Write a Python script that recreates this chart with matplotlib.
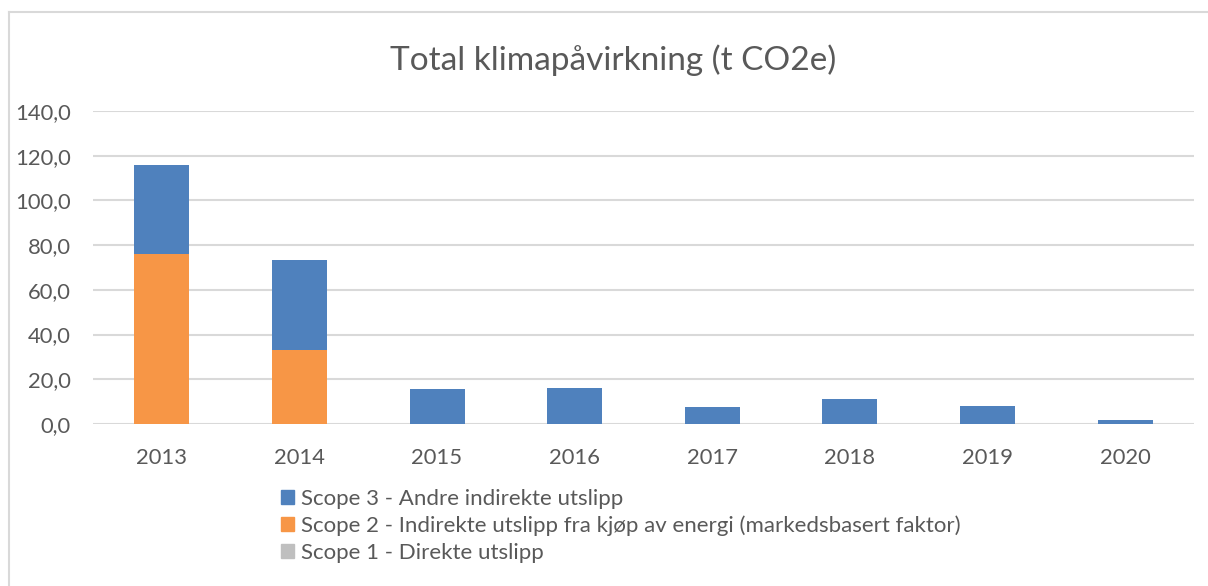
import matplotlib
matplotlib.use("Agg")
import matplotlib.pyplot as plt
from matplotlib.lines import Line2D
from matplotlib.patches import Patch
import numpy as np

years = ["2013", "2014", "2015", "2016", "2017", "2018", "2019", "2020"]
scope1 = [0.0, 0.0, 0.0, 0.0, 0.0, 0.0, 0.0, 0.0]
scope2 = [76.0, 33.1, 0.0, 0.0, 0.0, 0.0, 0.0, 0.0]
scope3 = [39.7, 40.1, 15.6, 16.1, 7.6, 11.2, 8.0, 1.9]
yticks = [0, 20, 40, 60, 80, 100, 120, 140]
title = "Total klimapåvirkning (t CO2e)"
labels = ["Scope 3 - Andre indirekte utslipp",
          "Scope 2 - Indirekte utslipp fra kjøp av energi (markedsbasert faktor)",
          "Scope 1 - Direkte utslipp"]
colors = ["#4F81BD", "#F79646", "#BFBFBF"]

plt.rcParams['font.family'] = ['Lato', 'DejaVu Sans']
W, H = 1208, 586
fig = plt.figure(figsize=(W/100, H/100), dpi=100)
ax = fig.add_axes([93/W, 1-424/H, (1194-93)/W, (424-111)/H])

x = np.arange(len(years))
w = 0.4
s1 = np.array(scope1); s2 = np.array(scope2); s3 = np.array(scope3)
ax.bar(x, s1, w, color=colors[2], zorder=3)
ax.bar(x, s2, w, bottom=s1, color=colors[1], zorder=3)
ax.bar(x, s3, w, bottom=s1+s2, color=colors[0], zorder=3)

ax.set_xlim(-0.5, len(years)-0.5)
ax.set_ylim(0, 140)
ax.set_yticks(yticks)
ax.set_yticklabels([f"{v:.1f}".replace(".", ",") for v in yticks])
ax.set_xticks(x)
ax.set_xticklabels(years)
ax.grid(axis='y', color='#D9D9D9', linewidth=1.5, zorder=0)
for s in ax.spines.values():
    s.set_visible(False)
ax.tick_params(length=0, colors='#595959', labelsize=15.8)
ax.tick_params(axis='y', pad=16)
ax.tick_params(axis='x', pad=17)

fig.text(613/W, 1-60/H, title, ha='center', va='center', fontsize=24, color='#595959')

handles = [Patch(color=c) for c in colors]
fig.legend(handles, labels, loc='upper left', bbox_to_anchor=(281/W, 1-489/H),
           frameon=False, fontsize=16, handlelength=0.6, handleheight=0.6,
           handletextpad=0.3, labelspacing=0.3, labelcolor='#595959', borderpad=0,
           borderaxespad=0)

fig.add_artist(Line2D([9/W, 9/W], [0, 1-12/H], color='#D9D9D9', linewidth=1.5, transform=fig.transFigure))
fig.add_artist(Line2D([9/W, 1], [1-12/H, 1-12/H], color='#D9D9D9', linewidth=1.5, transform=fig.transFigure))

fig.savefig("out.png", dpi=100, facecolor='white')
